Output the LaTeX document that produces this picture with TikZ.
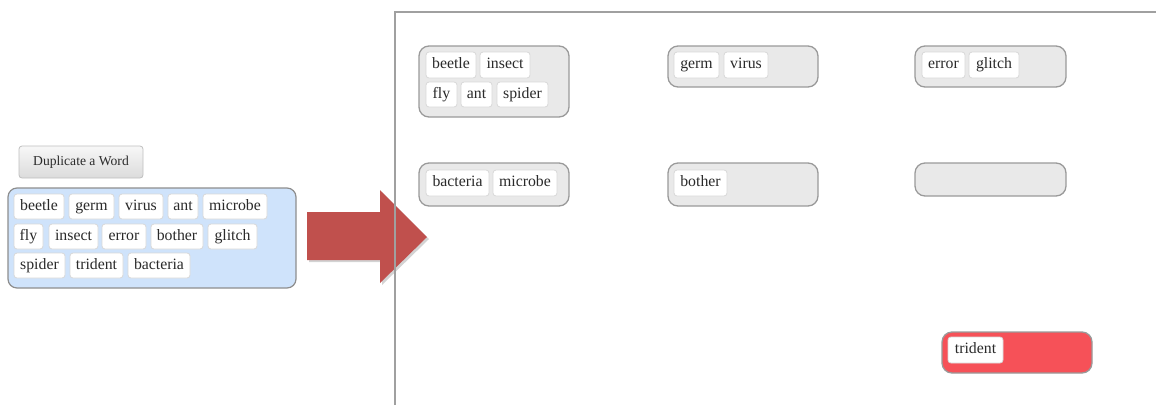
\documentclass[tikz,border=0pt]{standalone}
\usepackage{fontspec}
\setmainfont{Liberation Serif}
\newfontfamily\wordfont{Liberation Serif}
\usetikzlibrary{shadows}
\definecolor{txt}{HTML}{2A2A2A}
\definecolor{chipline}{HTML}{D8D8D8}
\definecolor{blueback}{HTML}{CFE3FB}
\definecolor{boxline}{HTML}{8E8E8E}
\definecolor{groupback}{HTML}{E9E9E9}
\definecolor{groupline}{HTML}{9A9A9A}
\definecolor{redback}{HTML}{F65158}
\definecolor{arrowred}{HTML}{C0504D}
\definecolor{panelline}{HTML}{A0A0A0}
\newcommand\bx[7]{\node[#1, minimum width={(#5-#3)*1pt}, minimum height={(#6-#4)*1pt}] (#2) at ({(#3+#5)/2},{(#4+#6)/2}) {#7};}
\begin{document}
\begin{tikzpicture}[x=1pt,y=-1pt,
  chip/.style={draw=chipline, fill=white, rounded corners=3pt, line width=0.8pt, inner sep=0pt,
    font=\wordfont\fontsize{15.8}{18}\selectfont, text=txt, text height=10.5pt, text depth=3.5pt},
  wordbox/.style={draw=boxline, fill=blueback, rounded corners=9pt, line width=1.2pt, inner sep=0pt},
  group/.style={draw=groupline, fill=groupback, rounded corners=10pt, line width=1.3pt, inner sep=0pt},
  redgroup/.style={draw=groupline, fill=redback, rounded corners=10pt, line width=1.3pt, inner sep=0pt},
  button/.style={draw=black!25, top color=white!97!black, bottom color=black!14, rounded corners=3pt,
    line width=0.8pt, inner sep=0pt, font=\wordfont\fontsize{13.6}{16}\selectfont, text=txt, text height=9.5pt, text depth=3pt},
  bigarrow/.style={fill=arrowred, draw=none, drop shadow={opacity=0.35, shadow xshift=2pt, shadow yshift=-2pt}},
  panel/.style={draw=panelline, line width=1.3pt}
]
\useasboundingbox (0,0) rectangle (1156,405);

% left side
\bx{button}{dup}{19}{146}{143}{178}{Duplicate a Word}
\bx{wordbox}{words}{8}{188}{296}{288}{}
\bx{chip}{w1}{14}{194}{64}{219}{beetle}
\bx{chip}{w2}{69}{194}{114}{219}{germ}
\bx{chip}{w3}{119}{194}{163}{219}{virus}
\bx{chip}{w4}{168}{194}{198}{219}{ant}
\bx{chip}{w5}{203}{194}{267}{219}{microbe}
\bx{chip}{w6}{14}{224}{43}{249}{fly}
\bx{chip}{w7}{49}{224}{98}{249}{insect}
\bx{chip}{w8}{102}{224}{146}{249}{error}
\bx{chip}{w9}{151}{224}{203}{249}{bother}
\bx{chip}{w10}{208}{224}{257}{249}{glitch}
\bx{chip}{w11}{14}{253}{65}{278}{spider}
\bx{chip}{w12}{70}{253}{123}{278}{trident}
\bx{chip}{w13}{128}{253}{190}{278}{bacteria}

% big arrow
\path[bigarrow] (307,212) -- (380,212) -- (380,190) -- (427,237) -- (380,283) -- (380,260) -- (307,260) -- cycle;

% panel
\coordinate (pbl) at (395,405);
\coordinate (ptl) at (395,12);
\coordinate (ptr) at (1156,12);
\draw[panel] (pbl) -- (ptl) -- (ptr);

% groups
\bx{group}{g1}{419}{46}{569}{117}{}
\bx{chip}{a1}{426}{52}{476}{78}{beetle}
\bx{chip}{a2}{480}{52}{530}{78}{insect}
\bx{chip}{a3}{426}{82}{457}{107}{fly}
\bx{chip}{a4}{461}{82}{492}{107}{ant}
\bx{chip}{a5}{497}{82}{548}{107}{spider}

\bx{group}{g2}{668}{46}{818}{87}{}
\bx{chip}{b1}{674}{52}{719}{78}{germ}
\bx{chip}{b2}{724}{52}{768}{78}{virus}

\bx{group}{g3}{915}{46}{1066}{87}{}
\bx{chip}{c1}{922}{52}{965}{78}{error}
\bx{chip}{c2}{969}{52}{1019}{78}{glitch}

\bx{group}{g4}{419}{163}{569}{206}{}
\bx{chip}{d1}{426}{170}{489}{196}{bacteria}
\bx{chip}{d2}{493}{170}{557}{196}{microbe}

\bx{group}{g5}{668}{163}{818}{206}{}
\bx{chip}{e1}{674}{170}{727}{196}{bother}

\bx{group}{g6}{915}{163}{1066}{196}{}

\bx{redgroup}{g7}{942}{332}{1092}{373}{}
\bx{chip}{f1}{948}{337}{1003}{363}{trident}
\end{tikzpicture}
\end{document}
